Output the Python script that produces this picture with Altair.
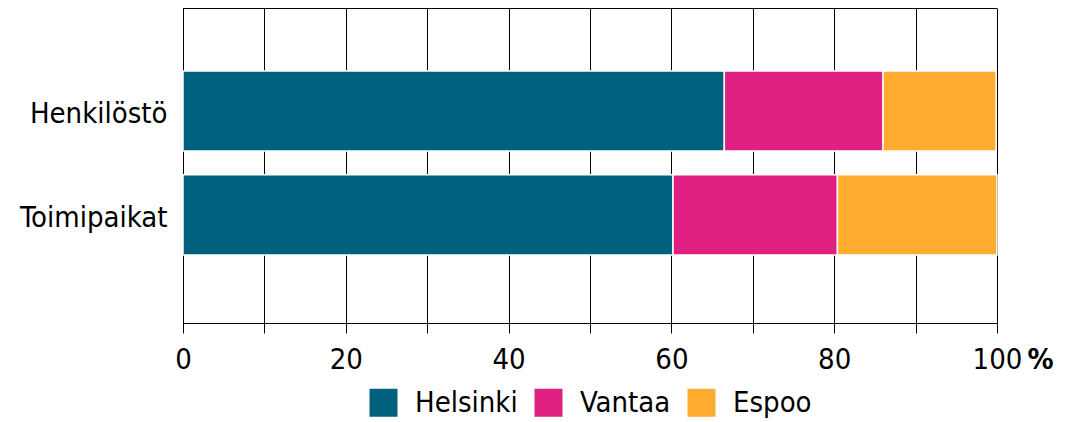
import altair as alt
import pandas as pd

categories = ["Henkilöstö", "Toimipaikat"]
cities = ["Helsinki", "Vantaa", "Espoo"]
henkilosto = [66.5, 19.5, 13.9]
toimipaikat = [60.2, 20.2, 19.6]
colors = ["#00617f", "#e12181", "#ffac31"]
x_ticks = list(range(0, 101, 10))

rows = []
for cat, vals in zip(categories, [henkilosto, toimipaikat]):
    for i, (city, v) in enumerate(zip(cities, vals)):
        rows.append({"category": cat, "city": city, "value": v, "order": i})
df = pd.DataFrame(rows)

FONT = "DejaVu Sans Condensed, DejaVu Sans"

bars = alt.Chart(df).mark_bar(stroke="white", strokeWidth=1.5).encode(
    x=alt.X(
        "value:Q",
        stack="zero",
        scale=alt.Scale(domain=[0, 100], nice=False),
        axis=alt.Axis(
            values=x_ticks,
            labelExpr="datum.value % 20 === 0 ? datum.label : ''",
            labelFlush=False,
            labelOverlap=False,
            tickSize=10,
            tickColor="black",
            tickWidth=1,
            labelPadding=12,
            labelFontSize=29,
            labelColor="black",
            labelFont=FONT,
            grid=True,
            gridColor="black",
            gridWidth=1,
            domainColor="black",
            title="%",
            titleFont=FONT,
            titleFontSize=29,
            titleFontWeight="bold",
            titleColor="black",
            titleX=857,
            titleY=45,
            titleAlign="center",
            titleBaseline="alphabetic",
            titleAngle=0,
        ),
    ),
    y=alt.Y(
        "category:N",
        sort=categories,
        scale=alt.Scale(paddingInner=0.23, paddingOuter=0.63, align=0.48),
        axis=alt.Axis(
            title=None,
            ticks=False,
            labelPadding=16,
            labelFontSize=29,
            labelFont=FONT,
            labelColor="black",
            domainColor="black",
            labelOffset=3,
        ),
    ),
    color=alt.Color(
        "city:N",
        scale=alt.Scale(domain=cities, range=colors),
        sort=cities,
        legend=alt.Legend(
            title=None,
            orient="none",
            direction="horizontal",
            legendX=186,
            legendY=380,
            symbolType="square",
            symbolSize=784,
            symbolStrokeWidth=0,
            symbolOpacity=1,
            labelFontSize=29,
            labelFont=FONT,
            labelColor="black",
            labelOffset=17,
            columnPadding=16,
            padding=0,
        ),
    ),
    order=alt.Order("order:Q"),
)

top_frame = alt.Chart(pd.DataFrame({"k": [0]})).mark_rule(
    color="black", strokeWidth=1
).encode(
    y=alt.value(0.5),
    x=alt.value(0),
    x2=alt.value(814),
)

chart = alt.layer(bars, top_frame).properties(
    width=814,
    height=315,
    padding={"left": 175, "top": 0, "right": 60, "bottom": 99},
    autosize=alt.AutoSizeParams(type="none"),
).configure_view(
    strokeWidth=0
).configure(
    font=FONT
)

chart.save("out.html", embed_options={"renderer": "svg", "actions": False})
